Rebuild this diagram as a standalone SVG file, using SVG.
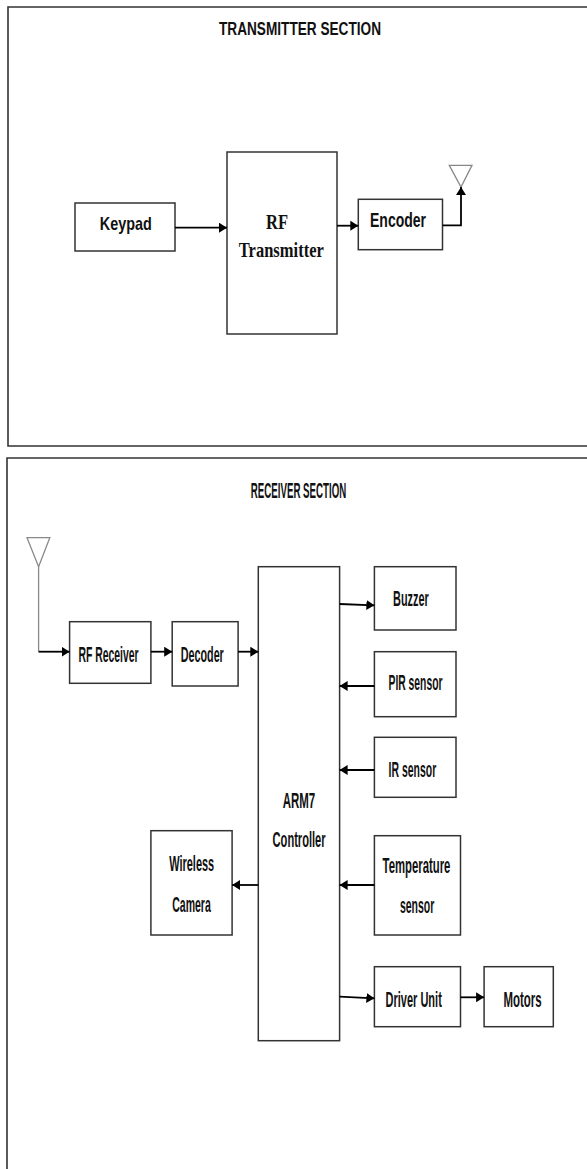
<svg xmlns="http://www.w3.org/2000/svg" width="587" height="1169" viewBox="0 0 587 1169">
<defs>
<style>
.frame{fill:none;stroke:#333;stroke-width:1.6}
.box{fill:#fff;stroke:#333;stroke-width:1.5}
.wire{fill:none;stroke:#000;stroke-width:1.8}
.ant{fill:none;stroke:#888;stroke-width:1.3}
.lbl{font-family:"Liberation Sans",Arial,sans-serif;font-weight:bold;fill:#111;text-anchor:middle}
.tx{font-size:18.5px}
.rx{font-size:21.5px}
.serif{font-family:"Liberation Serif","Times New Roman",serif;font-weight:bold;fill:#111;text-anchor:middle;font-size:21px}
</style>
<marker id="ah" markerUnits="userSpaceOnUse" markerWidth="9" markerHeight="10" refX="8" refY="5" orient="auto">
<path d="M0,0 L8,5 L0,10 z" fill="#000"/>
</marker>
</defs>
<rect width="587" height="1169" fill="#fff"/>

<g id="transmitter-frame">
<path class="frame" d="M600 7 H8 V446 H600"/>
<text class="lbl tx" x="300" y="35" textLength="162" lengthAdjust="spacingAndGlyphs">TRANSMITTER SECTION</text>
</g>

<g id="keypad">
<rect class="box" x="75" y="203" width="100" height="48"/>
<text class="lbl tx" x="125.8" y="230" textLength="52" lengthAdjust="spacingAndGlyphs">Keypad</text>
</g>
<g id="rf-transmitter">
<rect class="box" x="227" y="152" width="110" height="182"/>
<text class="serif" x="277" y="229.3" textLength="22" lengthAdjust="spacingAndGlyphs">RF</text>
<text class="serif" x="281.3" y="257.3" textLength="85" lengthAdjust="spacingAndGlyphs">Transmitter</text>
</g>
<g id="encoder">
<rect class="box" x="358.3" y="199.3" width="84.2" height="50.4"/>
<text class="lbl" x="398" y="227" font-size="19.5" textLength="56" lengthAdjust="spacingAndGlyphs">Encoder</text>
</g>
<g id="tx-antenna">
<path class="ant" d="M449.3 165.3 H472 L461 187 Z"/>
</g>

<g id="receiver-frame">
<path class="frame" d="M600 458 H7 V1175"/>
<text class="lbl" font-size="22" transform="translate(298.5,498.3) scale(0.55,1)" textLength="173.6" lengthAdjust="spacingAndGlyphs">RECEIVER SECTION</text>
</g>

<g id="rx-antenna">
<path class="ant" d="M27 537.7 H49.8 L38.6 566.7 Z"/>
<path class="ant" d="M38.6 566.7 V651.7"/>
</g>
<g id="rf-receiver">
<rect class="box" x="69.6" y="621.7" width="81.3" height="61.6"/>
<text class="lbl rx" transform="translate(108.5,661.7) scale(0.55,1)" textLength="109.1" lengthAdjust="spacingAndGlyphs">RF Receiver</text>
</g>
<g id="decoder">
<rect class="box" x="172.2" y="621.7" width="65.9" height="64.3"/>
<text class="lbl rx" transform="translate(202.3,661.7) scale(0.55,1)" textLength="78.2" lengthAdjust="spacingAndGlyphs">Decoder</text>
</g>
<g id="arm7">
<rect class="box" x="258.3" y="566.7" width="81.3" height="474"/>
<text class="lbl rx" transform="translate(299,808.3) scale(0.55,1)" textLength="59.1" lengthAdjust="spacingAndGlyphs">ARM7</text>
<text class="lbl rx" transform="translate(299.1,847.3) scale(0.55,1)" textLength="96.4" lengthAdjust="spacingAndGlyphs">Controller</text>
</g>
<g id="buzzer">
<rect class="box" x="374.4" y="566.7" width="81.6" height="63.3"/>
<text class="lbl rx" transform="translate(410.9,606) scale(0.55,1)" textLength="64.9" lengthAdjust="spacingAndGlyphs">Buzzer</text>
</g>
<g id="pir-sensor">
<rect class="box" x="374.4" y="651.7" width="81.6" height="65"/>
<text class="lbl rx" transform="translate(415.5,690) scale(0.55,1)" textLength="98.2" lengthAdjust="spacingAndGlyphs">PIR sensor</text>
</g>
<g id="ir-sensor">
<rect class="box" x="374.4" y="737.3" width="81.6" height="60"/>
<text class="lbl rx" transform="translate(412.4,777.3) scale(0.55,1)" textLength="86.5" lengthAdjust="spacingAndGlyphs">IR sensor</text>
</g>
<g id="wireless-camera">
<rect class="box" x="150.9" y="830.7" width="81.2" height="104.3"/>
<text class="lbl rx" transform="translate(191.7,870.7) scale(0.55,1)" textLength="81.8" lengthAdjust="spacingAndGlyphs">Wireless</text>
<text class="lbl rx" transform="translate(191.5,911.7) scale(0.55,1)" textLength="70.2" lengthAdjust="spacingAndGlyphs">Camera</text>
</g>
<g id="temperature-sensor">
<rect class="box" x="374.4" y="835.7" width="86.1" height="99.3"/>
<text class="lbl rx" transform="translate(416.5,873.3) scale(0.55,1)" textLength="123.3" lengthAdjust="spacingAndGlyphs">Temperature</text>
<text class="lbl rx" transform="translate(417.1,913.3) scale(0.55,1)" textLength="62.5" lengthAdjust="spacingAndGlyphs">sensor</text>
</g>
<g id="driver-unit">
<rect class="box" x="374.4" y="966.7" width="86.1" height="60"/>
<text class="lbl rx" transform="translate(413.7,1006.7) scale(0.55,1)" textLength="102.2" lengthAdjust="spacingAndGlyphs">Driver Unit</text>
</g>
<g id="motors">
<rect class="box" x="484.1" y="966.7" width="69.2" height="60"/>
<text class="lbl rx" transform="translate(522.6,1006.7) scale(0.55,1)" textLength="69.3" lengthAdjust="spacingAndGlyphs">Motors</text>
</g>

<g id="connectors">
<path class="wire" d="M175 227.7 H227" marker-end="url(#ah)"/>
<path class="wire" d="M337 225.7 H358.3" marker-end="url(#ah)"/>
<path class="wire" d="M442.5 225.3 H461 V187" marker-end="url(#ah)"/>
<path class="wire" d="M38.6 651.7 H69.6" marker-end="url(#ah)"/>
<path class="wire" d="M150.9 651.7 H172.2" marker-end="url(#ah)"/>
<path class="wire" d="M238.1 651.7 H258.3" marker-end="url(#ah)"/>
<path class="wire" d="M339.6 604 L374.4 605.3" marker-end="url(#ah)"/>
<path class="wire" d="M374.4 686 H339.6" marker-end="url(#ah)"/>
<path class="wire" d="M374.4 770 H339.6" marker-end="url(#ah)"/>
<path class="wire" d="M374.4 885 H339.6" marker-end="url(#ah)"/>
<path class="wire" d="M258.3 885 H232.1" marker-end="url(#ah)"/>
<path class="wire" d="M339.6 996.7 L374.4 998.3" marker-end="url(#ah)"/>
<path class="wire" d="M460.5 997.3 H484.1" marker-end="url(#ah)"/>
</g>
</svg>
